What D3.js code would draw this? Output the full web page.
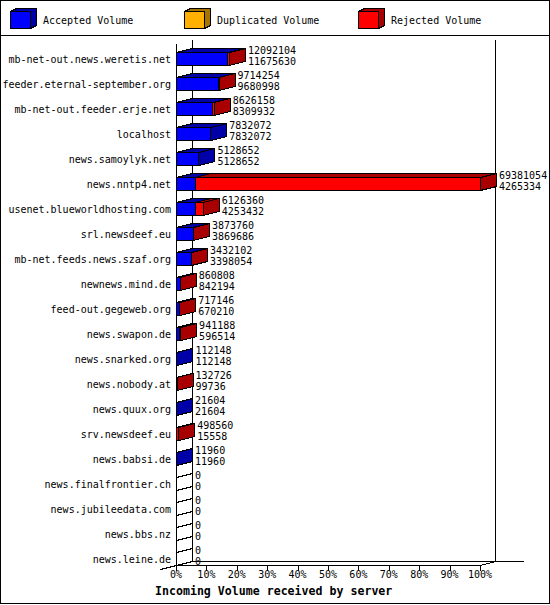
<!DOCTYPE html>
<html>
<head>
<meta charset="utf-8">
<script src="https://cdn.jsdelivr.net/npm/d3@7"></script>
<style>
  body { margin: 0; background: #fff; }
  text { font-family: "DejaVu Sans Mono", monospace; font-size: 10px; fill: #000; }
</style>
</head>
<body>
<svg id="chart" width="550" height="605"></svg>
<script>
const servers = [
  "mb-net-out.news.weretis.net", "feeder.eternal-september.org", "mb-net-out.feeder.erje.net",
  "localhost", "news.samoylyk.net", "news.nntp4.net", "usenet.blueworldhosting.com",
  "srl.newsdeef.eu", "mb-net.feeds.news.szaf.org", "newnews.mind.de", "feed-out.gegeweb.org",
  "news.swapon.de", "news.snarked.org", "news.nobody.at", "news.quux.org", "srv.newsdeef.eu",
  "news.babsi.de", "news.finalfrontier.ch", "news.jubileedata.com", "news.bbs.nz", "news.leine.de"
];
const offered = [12092104, 9714254, 8626158, 7832072, 5128652, 69381054, 6126360, 3873760,
  3432102, 860808, 717146, 941188, 112148, 132726, 21604, 498560, 11960, 0, 0, 0, 0];
const accepted = [11675630, 9680998, 8309932, 7832072, 5128652, 4265334, 4253432, 3869686,
  3398054, 842194, 670210, 596514, 112148, 99736, 21604, 15558, 11960, 0, 0, 0, 0];
const duplicated = [0, 0, 0, 0, 0, 0, 0, 0, 0, 0, 0, 0, 0, 0, 0, 0, 0, 0, 0, 0, 0];
const rejected = [416474, 33256, 316226, 0, 0, 65115720, 1872928, 4074, 34048, 18614, 46936,
  344674, 0, 32990, 0, 483002, 0, 0, 0, 0, 0];
const percentTicks = [0, 10, 20, 30, 40, 50, 60, 70, 80, 90, 100];

const legendItems = [
  { label: "Accepted Volume", front: "#0000ff", shade: "#0000a8", x: 10 },
  { label: "Duplicated Volume", front: "#ffb000", shade: "#a87400", x: 184 },
  { label: "Rejected Volume", front: "#ff0000", shade: "#a80000", x: 358 },
];

const svg = d3.select("#chart");
const width = 550, height = 605;

// 3d depth of the bars and walls
const dx = 16, dy = -4;
const plot = { left: 176, right: 480, top: 44, bottom: 565 };

// frame
svg.append("rect")
  .attr("x", 0.5).attr("y", 0.5)
  .attr("width", width - 1).attr("height", height - 2)
  .attr("fill", "#fff").attr("stroke", "#000");
svg.append("line")
  .attr("x1", 0).attr("x2", width).attr("y1", 35.5).attr("y2", 35.5)
  .attr("stroke", "#000");

// legend cubes
const legend = svg.append("g").attr("shape-rendering", "crispEdges");
legendItems.forEach((d) => {
  const x = d.x + 0.5, y = 11.5, w = 20, h = 17, ldx = 6, ldy = -3;
  legend.append("path")
    .attr("d", `M${x},${y}L${x + ldx},${y + ldy}L${x + w + ldx},${y + ldy}L${x + w + ldx},${y + h + ldy}L${x + w},${y + h}L${x + w},${y}Z`)
    .attr("fill", d.shade).attr("stroke", "#000");
  legend.append("rect")
    .attr("x", x).attr("y", y).attr("width", w).attr("height", h)
    .attr("fill", d.front).attr("stroke", "#000");
  svg.append("text")
    .attr("x", d.x + 33).attr("y", 23.5)
    .text(d.label);
});

const maxTotal = d3.max(offered);
const xPct = d3.scaleLinear().domain([0, 100]).range([plot.left, plot.right]);
const x = d3.scaleLinear().domain([0, maxTotal]).range([plot.left, plot.right]);
const y = d3.scaleBand().domain(servers).range([46.5, 571.5]);
const barHalf = 6.5;

const walls = svg.append("g")
  .attr("stroke", "#000").attr("fill", "none")
  .attr("shape-rendering", "crispEdges");
const L = plot.left + 0.5, R = plot.right + 0.5, T = plot.top, B = plot.bottom + 0.5;
// left front edge, back wall edges, floor
walls.append("line").attr("x1", L).attr("x2", L).attr("y1", T).attr("y2", B);
walls.append("line").attr("x1", L + dx).attr("x2", L + dx).attr("y1", T + dy).attr("y2", B + dy);
walls.append("line").attr("x1", R + dx - 1).attr("x2", R + dx - 1).attr("y1", T + dy).attr("y2", B + dy);
walls.append("line").attr("x1", L + dx).attr("x2", R + dx + 27).attr("y1", B + dy).attr("y2", B + dy);
walls.append("line").attr("x1", L).attr("x2", R).attr("y1", B).attr("y2", B);
walls.append("line").attr("x1", L - dx).attr("x2", L + dx).attr("y1", B - dy).attr("y2", B + dy);
walls.append("line").attr("x1", R).attr("x2", R + dx - 1).attr("y1", B).attr("y2", B + dy);

// ticks and percent labels
const ticks = svg.append("g");
ticks.selectAll("line")
  .data(percentTicks)
  .enter()
  .append("line")
  .attr("x1", (d) => Math.round(xPct(d)) + 0.5)
  .attr("x2", (d) => Math.round(xPct(d)) + 0.5)
  .attr("y1", B).attr("y2", B + 5)
  .attr("stroke", "#000").attr("shape-rendering", "crispEdges");
ticks.selectAll("text")
  .data(percentTicks)
  .enter()
  .append("text")
  .attr("x", (d) => xPct(d))
  .attr("y", 578)
  .attr("text-anchor", "middle")
  .text((d) => `${d}%`);

svg.append("text")
  .attr("x", 155).attr("y", 595)
  .style("font-size", "11.6px").style("font-weight", "bold")
  .text("Incoming Volume received by server");

// server labels
svg.append("g").selectAll("text")
  .data(servers)
  .enter()
  .append("text")
  .attr("x", 171)
  .attr("y", (d) => y(d) + y.bandwidth() / 2 + 4)
  .attr("text-anchor", "end")
  .text((d) => d);

// one 3d box: front face, top face, right face
const drawBox = (g, x0, x1, yc, front, shade) => {
  const a = x0 + 0.5, b = x1 + 0.5, t = yc - barHalf, bt = yc + barHalf;
  g.append("path")
    .attr("d", `M${a},${t}L${a + dx},${t + dy}L${b + dx},${t + dy}L${b},${t}Z`)
    .attr("fill", shade).attr("stroke", "#000");
  g.append("path")
    .attr("d", `M${b},${t}L${b + dx},${t + dy}L${b + dx},${bt + dy}L${b},${bt}Z`)
    .attr("fill", shade).attr("stroke", "#000");
  g.append("rect")
    .attr("x", a).attr("y", t).attr("width", b - a).attr("height", bt - t)
    .attr("fill", front).attr("stroke", "#000");
};

const bars = svg.append("g").attr("shape-rendering", "crispEdges");
servers.forEach((name, i) => {
  const yc = y(name) + y.bandwidth() / 2;
  const g = bars.append("g");
  const segments = [
    { v: accepted[i], item: legendItems[0] },
    { v: duplicated[i], item: legendItems[1] },
    { v: rejected[i], item: legendItems[2] },
  ];
  let start = 0;
  let drawn = 0;
  segments.forEach((s) => {
    if (s.v <= 0) return;
    drawBox(g, x(start), x(start + s.v), yc, s.item.front, s.item.shade);
    start += s.v;
    drawn++;
  });
  if (!drawn) drawBox(g, x(0), x(0), yc, "none", "none");

  const lx = x(offered[i]) + dx + 3;
  g.append("text").attr("x", lx).attr("y", yc - 5).text(offered[i]);
  g.append("text").attr("x", lx).attr("y", yc + 6).text(accepted[i]);
});
</script>
</body>
</html>
